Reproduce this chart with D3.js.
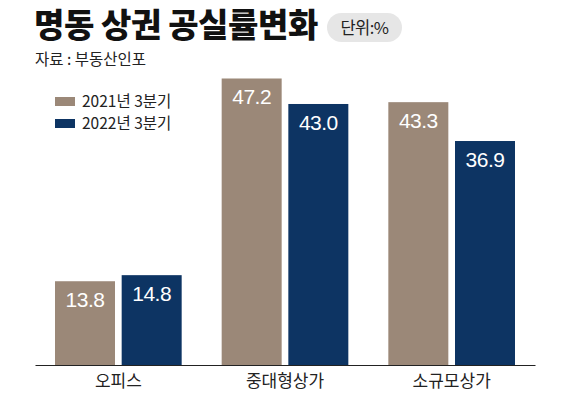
<!DOCTYPE html>
<html>
<head>
<meta charset="utf-8">
<script src="https://cdn.jsdelivr.net/npm/d3@7"></script>
<style>
  body { margin: 0; background: #fff; }
  svg { display: block; font-family: "Noto Sans CJK KR", "Noto Sans", sans-serif; }
</style>
</head>
<body>
<div id="chart"></div>
<script>
// 명동 상권 공실률 변화
const categories = ["오피스", "중대형상가", "소규모상가"];
const seriesNames = ["2021년 3분기", "2022년 3분기"];
const values2021 = [13.8, 47.2, 43.3];
const values2022 = [14.8, 43.0, 36.9];
const colors = ["#9b8878", "#0d3463"];

const width = 570, height = 399;
const baseY = 365;

const data = categories.map((c, i) => ({ cat: c, vals: [values2021[i], values2022[i]] }));

const svg = d3.select("#chart").append("svg")
    .attr("width", width)
    .attr("height", height);

// title
svg.append("text")
    .attr("x", 34).attr("y", 37)
    .style("font-size", "33px")
    .style("font-weight", 900)
    .style("letter-spacing", "-0.4px")
    .attr("fill", "#111")
    .text("명동 상권 공실률변화");

const badge = svg.append("g").attr("transform", "translate(327,13)");
badge.append("rect")
    .attr("width", 75).attr("height", 29)
    .attr("rx", 14.5)
    .attr("fill", "#e6e6e6");
badge.append("text")
    .attr("x", 37.5).attr("y", 20.5)
    .attr("text-anchor", "middle")
    .style("font-size", "16.5px")
    .style("letter-spacing", "-0.5px")
    .attr("fill", "#222")
    .text("단위:%");

svg.append("text")
    .attr("x", 35).attr("y", 65)
    .style("font-size", "15.5px")
    .attr("fill", "#222")
    .text("자료 : 부동산인포");

// scales
const x0 = d3.scaleBand()
    .domain(categories)
    .range([35, 535])
    .paddingInner(0.24)
    .paddingOuter(0.12);

const x1 = d3.scaleBand()
    .domain([0, 1])
    .range([0, x0.bandwidth()])
    .paddingInner(0.1);

const y = d3.scaleLinear()
    .domain([0, 50])
    .range([baseY, baseY - 50 * 6.07]);

const groups = svg.append("g")
  .selectAll("g")
  .data(data)
  .join("g")
    .attr("transform", d => `translate(${x0(d.cat)},0)`);

groups.selectAll("rect")
  .data(d => d.vals)
  .join("rect")
    .attr("x", (d, i) => x1(i))
    .attr("y", d => y(d))
    .attr("width", x1.bandwidth())
    .attr("height", d => baseY - y(d))
    .attr("fill", (d, i) => colors[i]);

groups.selectAll("text.val")
  .data(d => d.vals)
  .join("text")
    .attr("class", "val")
    .attr("x", (d, i) => x1(i) + x1.bandwidth() / 2)
    .attr("y", d => y(d) + 26)
    .attr("text-anchor", "middle")
    .style("font-family", "\"Liberation Sans\", Arial, sans-serif")
    .style("font-size", "21px")
    .style("letter-spacing", "-0.5px")
    .attr("fill", "#fff")
    .text(d => d.toFixed(1));

// axis
const xAxis = svg.append("g")
    .attr("transform", `translate(0,${baseY})`)
    .call(d3.axisBottom(x0).tickSize(0).tickPadding(10));
xAxis.select(".domain").attr("stroke", "#222").attr("stroke-width", 1.2);
xAxis.selectAll("text")
    .style("font-size", "17px")
    .style("font-family", "\"Noto Sans CJK KR\", sans-serif")
    .attr("fill", "#222");

// legend
const legend = svg.append("g")
  .selectAll("g")
  .data(seriesNames)
  .join("g")
    .attr("transform", (d, i) => `translate(55,${97 + i * 22})`);
legend.append("rect")
    .attr("width", 20).attr("height", 9)
    .attr("fill", (d, i) => colors[i]);
legend.append("text")
    .attr("x", 27).attr("y", 10)
    .style("font-size", "15.5px")
    .attr("fill", "#222")
    .text(d => d);
</script>
</body>
</html>
